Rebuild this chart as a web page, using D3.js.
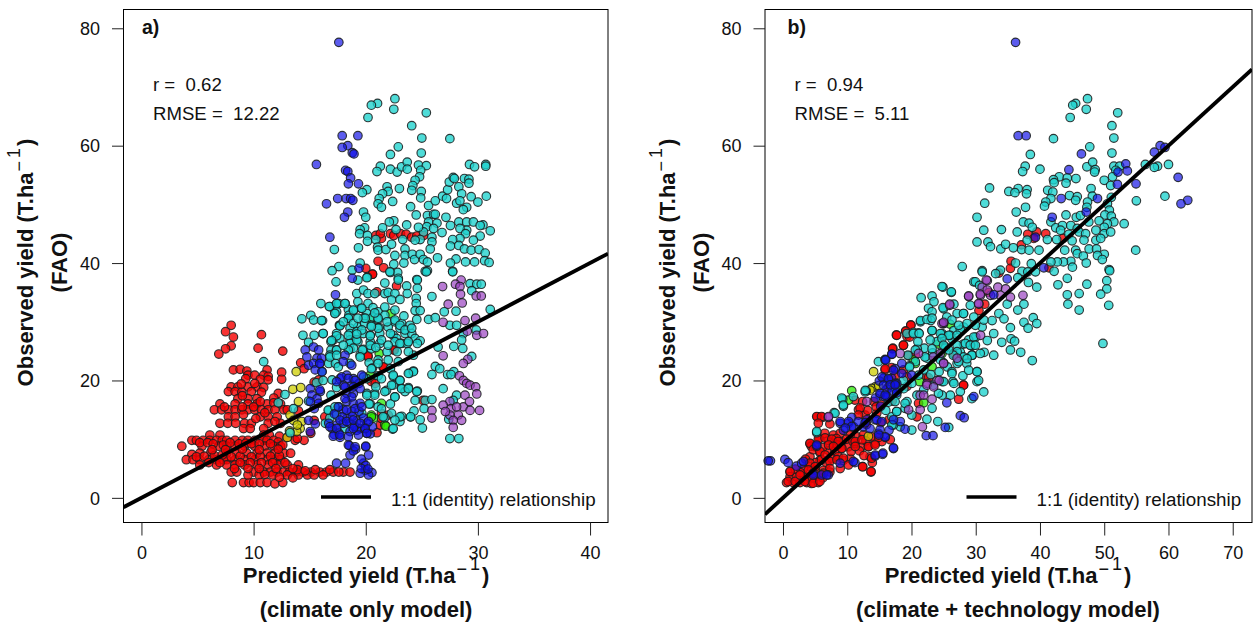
<!DOCTYPE html>
<html><head><meta charset="utf-8">
<script src="https://cdn.jsdelivr.net/npm/d3@7/dist/d3.min.js"></script>
<style>html,body{margin:0;padding:0;background:#fff}svg{display:block}text{font-family:"Liberation Sans",Arial,sans-serif;fill:#111;white-space:pre}</style>
</head><body><svg id="c" width="1253" height="626"></svg>
<script>
// Values, flat x,y lists (predicted, observed)
const aRed=[8,29.4,7.5,28.3,8.2,27.4,8,25.9,7.5,25.4,6.9,24.5,10.7,27.8,10.4,25.5,12.6,25,
8.2,21.8,8.8,21.9,9.4,21.6,11.2,21.8,9.5,20.9,10.1,20.9,10.9,20.9,11.3,20.7,12.5,21.4,9.3,20.3,10.6,20.2,11.3,20.1,12.5,20.2,
8,18.9,8.6,18.9,9.5,18.9,10.3,18.9,10.9,18.8,7.75,18.1,8.35,18.1,8.95,18,9.8,18.1,10.7,18,12.2,17.8,
8.6,16.9,9.5,16.9,10.3,16.9,11.8,17,7,16,8.35,16,9.5,16,10.3,16,11.2,16,11.8,16.2,12.4,16,
6.5,15,7.15,15,7.75,15,8.35,15,8.95,15,9.5,15,10.1,15,10.7,15,11.3,15,11.9,15,12.7,15,
7.75,13.8,8.35,13.8,10.6,13.8,11.3,13.8,12.1,13.8,9.1,14.2,7,12.7,7.7,12.7,8.4,12.7,9.2,12.7,9.8,12.7,11.3,12.7,12.4,12.7,9.1,11.8,9.7,11.8,10.9,11.8,
6.1,10.7,7,10.7,10.9,10.7,11.4,10.7,12.3,10.5,13,10.3,
4.5,9.8,4.9,9.8,5.5,9.8,6.1,9.8,6.7,9.8,7.2,9.8,7.6,9.8,8.35,9.8,9,9.8,9.5,9.8,10.1,9.8,10.9,9.8,11.2,9.8,11.8,9.8,12.2,9.5,13.7,9.8,14.5,9.8,
3.6,8.8,5.4,8.8,6.9,8.8,7.6,8.8,8.35,8.8,9.2,8.8,10.1,8.8,11,8.8,11.8,8.8,12.4,8.8,
5.2,7.6,4.5,7.4,6.2,7.8,7.6,7.6,8.5,7.6,9.4,7.6,10.3,7.6,11.2,7.6,11.9,7.6,12.7,7.6,13.3,7.6,
4,6.5,4.6,6.5,5.2,6.5,6,6.5,6.7,6.5,7.3,6.5,7.6,6.5,8.35,6.5,9.2,6.5,10.1,6.5,11.2,6.5,11.9,6.5,12.4,6.5,
5.2,5.6,6.7,5.6,7.6,5.6,8.35,5.6,9.2,5.6,10.3,5.6,11.3,5.6,12.2,5.6,13,5.6,14,5.6,
8,4.4,8.5,4.4,10,4.4,10.9,4.4,11.5,4.4,12.1,4.4,12.7,4.4,13.2,4.4,13.8,4.4,14.4,4.4,15.1,4.4,15.9,4.4,16.5,4.4,17.1,4.4,18,4.4,18.6,4.4,
10.5,3.9,11.7,3.9,13,3.9,14,3.9,14.8,3.9,15.4,3.9,16.2,3.9,
8.1,2.6,9.1,2.6,9.6,2.6,10,2.6,10.6,2.6,11.2,2.6,11.9,2.4,12.6,2.6,
14.2,23,14.5,22,15.8,20.1,15.4,19.7,13,15,14,14.8,15.4,13.2,15.1,11,13.9,10.1,
20.9,44.7,21.4,44.2,21.3,45,22.2,45,22.5,44.7,23.1,45,23.6,44.9,24.1,44.4,24.55,44.6,25.15,44.7,21.1,40.3,21.6,39.2,20,39.1,20.6,38.1,
21,35.1,22.75,36.1,20.6,38.1,22.55,25.2,20.2,24,21.55,22.2,25.1,16.6,21,11.1,20.5,19.8,21.4,14.4,21.3,12.4,
5.2,9.4,5.9,9.4,6.4,9.2,7.3,9,7.9,9.4,8.7,9.2,9.3,9.3,9.8,9.2,10.5,9.2,11.5,9.2,12.6,9,4.9,7,5.6,7.1,6.5,7.2,7.2,7.3,8,7,8.8,7.1,9.8,7,10.6,7.1,11.5,7.1,12.3,7.2,6,6,7,6,8.8,6,9.7,6,10.7,6,11.7,6,12.8,6,13.9,4.8,14.6,4.6,15.5,4.8,16.8,4.8,17.6,4.4,10,15.5,9,15.5,7.4,15.5,10.6,16.4,9,17.4,8.9,19.4,10.1,19.5,10.2,13.5,11.9,13,11,14.5,
16.35,13.8,20.85,19.5,21.4,13.5,22,14.1,20.2,24.2,21.6,22.3,22.5,25.2,
9.5,3.9,11,4,12.3,3.5,13.5,3.4,8.3,5,9.5,5,10.5,5,12,5,13.5,5,6.3,8.2,7.5,8.2,9,8.3,10.5,8.2,12.2,8.3];
const aYellow=[13.5,18.5,14.2,18.8,13.8,21.5,14,16.4,13.25,14.1,14.3,13,14.15,11.8,13.85,11.3,13,10.3,13.55,13.2,13.9,12.4,13.2,11.4];
const aGreen=[22.25,31.4,20.5,30.6,21.2,24.6,20.4,20.9,20.5,14.1,21.4,16.1,21.7,12.4,20.7,13.6,20.5,13.8,21.8,12.2];
const aCyan=[22.6,68,21.05,67.2,20.5,66.9,22.5,66.2,25.4,65.6,20.2,64.8,24.1,63.4,25,61.3,27.5,61.2,22.9,59.8,22.2,58.5,24.95,58.75,21.3,56.5,21,55.6,22.2,56,22.8,55.5,23.2,56.4,23.7,57.2,23.7,56,24.7,56.7,25.4,56.6,24.9,55.8,24.8,54.7,24.4,54.1,24.2,53.2,24.1,52.4,24.95,52.2,24.9,51.1,23,52.7,21.9,53,22,52.2,21.5,51.8,21.2,51,21.1,50.1,21.4,49.5,22.4,50.5,20.1,52.5,19.7,52,19.8,48.7,20,47.8,24,49.6,24.5,48.2,25.6,49.8,26.2,50.6,26.85,51.4,27.2,51,27.3,52.5,27.45,53.8,27.8,54.6,27.9,54.4,28.8,54.4,29.2,54.3,29.2,53.6,28.3,53,28.55,51.8,29.4,51.3,30.75,51.4,30,50.4,29,49.5,28.7,49.1,28.1,50.2,28.4,50.6,29.25,56.8,29.7,56.4,30.7,56.8,30.7,56.5,
25.5,48.1,26.05,48.3,26.2,48.3,27.15,47.8,28.3,47,29,47,29.6,47,30.45,46.5,30.2,46.4,25.6,47,26.35,46.8,27.55,46.4,25.45,46.2,26.05,45.9,26.8,45.2,25.15,45.3,31.1,45.5,30.2,44.6,29,45.6,28.4,45.9,28.9,45,28.4,44.2,27.75,44,29.6,43.9,27.55,42.9,28.3,43,28.8,42.4,29.4,42.2,30.1,42.3,30.65,41.7,25.9,44.4,25.9,43.6,25.75,42.4,24.85,44,24.4,43.9,23.3,44,22.7,45.7,23.65,46.5,24.7,46.1,22.5,47.2,22.1,47,21.5,46,19.9,46,19.5,45.7,19.45,45,20.15,44.7,20.15,43.7,20.9,44,21.05,42.7,21.1,42.2,21.8,42.3,22.3,43.2,22.6,41.3,23.5,42.4,23.5,41.3,24.15,41.5,24.35,40.6,24.85,41.5,25.15,40.6,25.5,40.2,26.4,40.9,19.35,42.6,17.2,42.3,28.05,40.7,27.55,40,28.9,40.2,29.7,40.2,30.6,40.4,31,40.1,27.75,38.6,23.4,40,22.5,39.8,25.3,38.6,25.5,38.7,17.6,39.4,17,38.7,19.5,40,18.8,38.8,20.15,37.6,22.2,38.4,22.85,38.4,24.55,37.2,22.9,37.4,
17.35,36.8,19.3,37.1,20.1,37.5,21.7,36.6,22.15,38.5,22.9,37.1,23.65,36.1,23.7,34.8,24.6,37.1,24.6,35.7,25.4,38.5,25.9,34.3,27.75,38.5,29.3,36.5,29.9,36.4,30.3,36.4,29.45,35.3,19.2,34.8,19.8,35.4,20.2,34.8,20.8,34.8,21.7,34.8,22,35,22.6,34.8,22.3,33.7,23.05,33.8,24.5,34,24.5,33.1,24.4,31.9,24.85,31.9,27,31.7,28.05,31.8,31.1,32.1,17.45,33.1,18.15,33.1,17.25,31.5,18.45,32.1,18.9,31.9,19.3,33.4,19.6,32.3,20.2,33.1,20.65,32.4,20.1,31.4,21.1,31.7,21.7,32.5,19.8,30.6,20.65,30.8,21.1,30.4,21.7,31.1,18.45,30.6,17.65,29.4,18.6,28.9,19.3,29.1,19.9,29.7,20.5,29.4,21.2,29,22,29.1,22.6,30,23.2,29.7,23.95,29.4,23.05,28.9,24.55,30.4,25.6,30.4,26.2,30.7,27.5,29.4,28.1,29.4,17.4,28,18.6,28,19.2,28.3,19.8,28,20.4,27.7,21.25,28,22.45,27.7,22.75,27.15,23.5,28,24.1,28,24.4,27.15,24.85,26.75,17.1,26.9,17.7,27.15,18.6,26.9,19.3,26.6,20.4,26.6,21.25,26.3,22.6,26.6,23.2,26.3,23.7,26.3,24.6,26.3,16.9,25.2,17.4,25.2,18.6,25.3,19.8,25.3,20.5,25.4,21.9,24.9,19.5,24.3,21.1,23.5,22,23.5,22.9,23.2,24.25,24.3,26.45,25.7,27.85,25.8,28.65,25.45,28.7,28,28.55,26.9,29.85,28.6,29.45,24.1,26.2,22.4,26.6,22,25.9,21,27.3,21,27.85,21.5,27.6,21,23.9,21.2,24.25,21.6,22.45,20.7,23.05,20,20.1,20.3,21.85,18.3,22.45,19.2,23.2,18.6,23.8,18.8,22.6,17.2,23.5,18.1,24.6,18.2,24.4,16.6,25.3,16.6,25.9,16.75,25.2,15.2,26.9,18.6,20.1,17.8,20.8,17.8,20.4,16,21.1,15.5,22.3,14.4,23.05,13,23.2,13.9,24,13.8,24.3,14.8,24.85,13.3,25.05,11.9,22.4,11.7,27.5,10.1,28.3,10.1,28.1,17.5,27.8,16.6,27.4,13.4,
14.3,30.5,15.1,31.1,16.15,30.2,15.35,30.3,16,33.1,16.8,32.6,17.4,31.7,17.6,33.1,18.5,31.1,14.4,27.7,15.4,27.7,16.2,28,16.9,26.6,14.9,26.5,17.7,29.4,18.6,26.3,10.9,23.2,17.4,25.2,16.8,24.3,16.7,22.9,18.6,22.9,17.4,18.8,12.8,17.6,13.55,15.2,16.7,14.9,17.6,15.5,13.25,11.1,17.3,22.9,16.1,21.5,15.6,19.6,17,20.1,20.3,23,21.1,20.8,20.6,22.1,22.2,22,20.9,18.9,22.2,16,21.7,13.7,16.9,17.5,16.4,12.7,16.8,13.6,12.2,16.2,14.9,16.5,19.8,20.6,
16.75,32.6,17.25,31.4,17.4,33.1,18.15,33.1,18.9,32,18.45,30.6,19.65,32.3,16.05,30.2,17.7,29.3,16.2,28,17.4,27.6,16.95,26.8,18.45,27.7,19.2,26.9,19.65,28.6,20.4,27.6,19.95,30.6,21.1,30.6,21.9,30,22.6,30.3,21.1,28.9,20.5,29.2,23.05,29.4,23.5,28.6,24.1,28.9,22.2,28,21.4,26.9,23.05,26.3,23.8,26.6,19.7,25.2,18.9,25.5,18.45,25.2,20.4,26,22,26,21.1,22.9,20.5,22,19.5,24,16.8,24,17.4,24.3,17.55,22.3,22.45,20.9,23.05,20,24.25,21.5,23.8,21.2,21.4,20.3,22.3,19.2,23.2,18.6,23.8,18.6,21.7,18.1,20.8,17.5,20.1,17.5,22.6,17.2,24.55,18.1,20.3,16,19.65,14.4,21.4,15.2,21.55,13.8,23.05,13.8,24,13.8,22.45,11.8,22.6,13.25,16.65,14.95,17.25,15.5,17.4,14.1,18.15,11.8,16.2,20,
18,30,18.9,29.7,19.3,30.6,20.8,31.5,22.6,32,23.4,31,18,26,19.2,27.9,20.9,25.6,22.8,24.9,23.8,24.9];
const aPurple=[28.5,37.1,28,36.4,28.4,36,26.85,36,28.45,34.7,28.6,33.2,29.85,34.4,30.3,34.4,27.35,33,26.9,29.9,28.85,30.2,29.8,30.6,29.05,28.4,29.9,27.7,30.5,28,26.9,24.2,29.1,23.6,28.7,22.9,28.35,20.8,28.7,20,29,19.5,29.3,19.2,29.8,18.9,29.9,17.7,28.85,17.5,27.5,16.4,26.9,15.8,27.6,15.2,28.7,15.5,29.25,16.4,29.3,14.9,30.15,14.9,28.25,14.1,27.5,14.1,28.55,13.2,27.8,13.2,25.9,14.9,25.9,13.6,27.8,12,27.1,14.7,28.1,15.5];
const aBlue=[17.6,77.6,17.9,61.7,19.3,61.7,18.4,60,17.9,59.7,18.8,58.8,18.95,58.6,15.6,56.8,18.2,55.8,18.4,55.6,18.65,54.5,18.45,53.5,19.35,53.5,17.5,51,18.25,51,18.65,51,18.85,50.7,16.5,50.1,18.4,48.7,18.1,47.8,16.8,44.4,19.4,39.1,18.8,37.4,17.3,34.6,
14.6,25.2,15.35,25.7,15.8,25.2,14.75,24,15.65,23.8,15.9,22.9,14.9,22.6,15.35,22.9,15.5,21.8,16.1,21.5,15.05,18.6,15.95,18.1,15.2,17.5,15.65,16.9,15.05,16.4,15.8,16.1,15.4,15.2,14.9,13.2,15.5,12.6,15.05,11.3,17.7,20.3,18.3,20.9,18.9,20.3,18,19.2,18.75,19.2,19.4,19.5,18.3,17.8,18.9,17.8,18.3,16.4,18.9,16.1,19.5,16.1,18,15,18.75,14.7,19.4,14.7,18.3,13.5,19.2,13.1,20.1,12.7,17.4,12.4,18,12.7,18.6,12.7,19.5,11.8,17.6,11,17,11.8,18.6,11.3,19.2,11.5,20.1,11,17.9,13.8,18.8,13.9,19.8,13.6,17.2,14.3,16.7,12.7,17.2,10.8,17.7,10.3,19,12.2,19.9,12,20.4,10.9,20.6,12.1,
18.55,8.9,20,8.7,19.1,8.3,18.6,7.3,20.25,7.3,19.8,5.9,17.4,5.9,18.2,5.9,19.95,4.7,20.55,4.3,20.25,3.9,19.5,4.2,18.9,8,19.6,6.6,20,5.5,19.6,5,20.2,4.9,
18.15,24.3,16.05,23.8,18,23.2,18.75,22.6,17.85,20.6,18.45,20.35,19.05,20,19.65,20.9,17.4,19.8,18.15,18.9,18.9,18.9,19.5,18.6,18.75,17.2,18.15,16.9,17.55,15.5,18.3,14.95,19.05,15.2,19.65,15.5,17.7,13.25,18.3,13,18.9,13.25,19.5,12.7,20.25,13,16.8,12.1,17.4,11.8,18.9,11.8,19.95,11.8,17.1,10.5,17.7,10.7,18.45,10.4,19.35,10.7,20.1,11,18.45,9,19.05,8.7,20,8.8,15.9,22.9,15.9,18.4];
const bRed=[38.1,44.9,39.5,45.3,40.9,45,39.05,44.2,43.6,44.2,37.1,43.1,35.5,40.3,35.4,39.1,41.4,39.2,33.6,38.3,32.05,35,31.4,33,30.5,31.9,26.6,24.5,
17.65,27.75,19.1,28.4,19.9,29.45,19.3,27.5,17.1,25.5,18.75,26,19.55,24.2,5.35,13.8,6.1,13.7,7.3,12.6,5.65,10.1,4.2,9.2,4.4,8.8,5,8.7,5.75,7.7,4.2,7,7.05,9.8,7.85,10.7,8.9,11,7.85,9.3,9.15,9.6,7.05,8.1,8.1,7.9,9.15,8.4,10.2,8.7,11.2,9.3,12.25,8.7,13.3,8.7,14.35,9.3,15.4,9.6,11.5,10.4,12.5,10.7,13.8,10.4,10.45,10.7,5.75,6.4,6.8,5.9,7.6,6.7,8.6,7,9.4,6.4,10.45,6.7,12.4,5.3,13.7,4.4,13.9,6,13.55,7,1.1,4.4,0.55,2.6,1.6,2.6,2.65,2.6,3.7,2.6,4.45,2.45,5.5,2.6,1.1,3.6,2.1,3.6,3.2,3.9,4.2,5.3,3.2,5,5,4.7,6.3,4.7,7.3,4.4,5,3.6,3.95,3.6,11.2,16.65,11.75,15,14.1,16.4,14.6,14.4,12.8,14.1,15.9,21.8,16.9,22.2,17.5,20.9,18.75,21.8,19.3,20.6,22.4,20.6,27.35,16.8,28.1,19.2,20.85,13.8,21.1,16.1,19.3,19,
8.3,10.1,9.9,10,10.9,9.6,12.9,9.7,6.5,11,6.2,8.6,8.5,9,10.6,7.9,11.9,8,12.6,7.2,14.9,10.3,13,12.5,15.2,12.8,16.5,13.3,14.5,15.5,15.4,15.9,17,16.5,13.2,14.9,12.4,16.4,16.4,18.9,18,18.4,2.7,4.3,4.6,3.4,6.2,3.4,1.9,4.9,3.5,6.6,5.1,6,
19.9,29.4,19.1,28.4,17.7,27.7,19.7,27.4,18.75,26,17.05,25.4,15.9,22,20.6,24.3,22.65,20.45,28.1,19.2,26.55,24.6,
5.25,13.85,6,13.85,5.5,12.7,12,15.3,11.75,14.1,4.2,9.3,5.5,10,6.55,10.2,7.6,10,8.6,9.6,4.7,8.2,5.75,7.9,7.1,9,7.85,8.75,9.15,8.45,11.25,9.6,12.3,9.9,11.25,8.75,13.3,8.75,14.35,9,16.7,9.9,6,6.5,4.2,5.9,5,5.3,6.55,7.3,7.3,6.2,8.4,6.5,9.4,6.75,7.3,5,6.3,4.2,1.1,4.5,0.8,2.8,1.9,2.8,2.65,3.9,3.95,4.75,3.4,2.8,4.7,2.5,5.75,2.8,13.8,6.75,12.4,5.3,13.7,4.5,8.9,5,10.2,5.6];
const bYellow=[14.1,21.5,14.35,18.9,13.8,18.65,13.3,10.5,14.9,19.1,13.55,18.35];
const bGreen=[10.7,18.25,21.25,19.8,23.2,22.35,21.9,16.2,20.6,22.9,10.2,16.65,26,29.6,24.75,24.6,24.2,26.2,20.3,23.5];
const bCyan=[47.4,68,45.55,67.2,45.1,66.9,47.2,66.2,52.1,65.6,44.7,64.8,51.2,63.4,51.5,61.3,42.1,61.2,47.75,59.8,38.5,58.5,51.2,58.75,37.7,56.5,37.3,55.6,40,56,47.3,56.4,48.2,57.2,48.6,55.9,48.5,55.5,51.5,56.5,52.4,56.5,60,56.8,56.4,56.8,58.3,56.5,57.8,56.3,51.8,55.8,51.3,54.7,50,54.1,51,53.2,43,54.7,42.1,54.2,42.2,53.7,44.25,54.5,45.6,54.4,44.05,53.6,32.15,52.8,35.15,52.2,36.6,52.7,36.1,52,38,52.5,37.9,51.8,41.2,52.4,42,52.1,41.7,51,44.6,51.5,45.8,51.3,45.55,50.7,47.95,52.7,48.15,51.4,51.1,51.2,59.45,51.4,55,50.6,31.4,50.2,40.9,50.4,40.7,49.7,37.75,49.5,36.3,48.7,30.2,47.8,44.05,48.2,47.4,50.4,47.3,49.5,50.5,50.1,50.8,49,50.1,48.2,51.1,48,45.65,47.8,46.3,48.1,53.1,46.7,51.5,47,50.5,46.7,49.2,47.2,47.6,47,50,46.1,37.4,47,38.3,46.8,41.7,47,42.45,46,43.5,46.4,44.8,46.4,45.8,45.9,31.25,45.6,34,45.7,36.45,45.3,38.8,46.1,43.2,45.6,44.5,44.9,46.1,45.3,47.1,45,48.7,45.6,50,45,51,45.3,30.2,43.6,31.9,43.6,32.3,42.8,33.9,42.4,34.65,43.2,35.85,42.6,37.15,42.3,38,43.9,38.3,42.2,39.85,42.2,41.15,44,42.6,44,43.85,42.2,45,43.8,45.55,42.2,46.85,43.9,47.65,42.4,48.7,43.9,49.45,44.2,54.9,42.2,50,41.5,48.8,42.4,48.95,41.3,49.7,40.6,45.8,41.6,46.75,41.2,47.2,40,44.8,40.3,43.65,40.2,42.7,40.2,41.7,40.2,36.2,40,38.65,39.9,27.9,39.4,31,38.7,33.85,38.8,33.1,38.2,37.2,38.6,38.1,38.5,39.3,38.5,42.2,38.6,45.05,39.3,50.75,38.9,50.85,38.7,44.25,37.4,50.4,37,36.55,37.5,29.7,36.8,24.9,35.9,26.2,35,38.2,36.7,39.5,35.9,42.8,36.3,47.3,36.4,50.4,35.6,49.45,34.7,46.1,34.8,44.25,34.6,44.35,33,46.1,32,50.7,32.8,37.5,33,36.55,32,34.9,33,33.6,31.4,34.4,30.5,35.4,29,37.5,29.9,38.95,30.7,39.5,29.7,38.15,28.9,34.05,26.5,35.5,27.1,36.05,26.7,35.4,25.2,37,24.8,49.8,26.3,38.8,23.4,
26.6,33,25,32.2,28.1,31.4,29.7,30.8,31,29.1,32.55,30.2,26.6,28.5,28.1,29.1,30,27.4,31.8,26.8,32.8,28,29.7,26,31.3,24.8,32.8,24.3,28.1,26.2,26.3,27.1,25,27.7,29.45,24.3,27.6,24.8,25.3,25.7,
5.25,11.1,9.3,16.8,9.4,15.6,7.95,14.5,12.95,18.2,14.85,23.2,15.9,23.6,19.3,28,20.3,28.2,21.1,28.1,23.2,28.5,24.75,28,21.4,30,23,30.2,26,27.7,27.6,28.6,23.95,26.6,27.1,26,28.9,26.9,28.1,24,29.4,24.3,30.2,21.5,30.2,19.8,26.45,19.8,27.6,18.1,26.05,17.5,24.75,17.5,23.2,15.25,22.4,13.4,24.1,13,20.05,11.55,25.8,12,21.9,21.8,20.6,23.2,22.4,23.8,24.5,23.5,27.1,22.9,28.6,22.9,20.05,19.5,20.85,17.5,19.3,16.4,17.7,14.7,16.95,13.8,18.25,12.1,20.05,14.1,19,15.25,17.2,12.4,17.7,17.5,21.9,18.4,23.4,19.2,24.75,19.8,27.1,24.9,25.25,25.5,29.2,26,22,25.5,23.3,24.7,25.6,22.3,26.5,24.3,24.3,21.5,23,21,18.8,18.6,17.6,19,16.4,16.3,16,14.9,19.7,22.5,20.9,25.4,26.3,21.5,28,20.8,
24.75,36,26.2,35.1,21.5,34.1,23.2,34.4,23.5,33.4,24.9,32.4,22.65,32.3,23.2,31.7,21.4,30.2,22.4,30.4,23.2,30.6,25.5,30.8,27.1,31.4,28.1,31.4,29.15,32.8,29.95,36.8,30.6,36.2,31,38.5,25,29.7,26.3,30.3,27.35,29.4,28.65,29.7,29.95,29.4,31.25,30.3,20.3,28,21.2,28,23.2,28.5,21,26.6,24.5,28,25.8,27.7,27.1,27.7,29.7,27.4,22.9,26.9,23.2,25.4,24.75,27.15,25,26,25.8,25.2,28.4,26.3,29.15,26,29.95,26,20.6,25.2,19.45,24.3,19.7,22.3,22.1,24,29.4,24.3,30.7,24.6,27.35,23.2,28.65,23.7,28.9,21.75,30.2,21.5,30.45,20,26.3,21.2,26.6,19.5,25,19.8,16.8,18.9,12.8,18.05,31.25,18.05,29.4,16.9,24.2,17.8,18.75,20,21.1,20.9,
8.1,14.4,9.15,17,9.4,15.8,10.95,17.25,12.8,18.3,17.45,16.4,17.7,14.7,16.95,12.4,19,16.1,5.25,11.3];
const bPurple=[31.8,37,31,35.9,33.45,35.9,34.65,35.6,30.75,34.5,28.9,34.3,32.3,34.5,37.35,34.5,35.4,34.2,33.85,34.5,30.5,33,25.95,32.8,25,29.7,30.75,27.7,7.05,13.7,13.05,16.4,18.25,24.6,21.1,24.6,23.4,24,25,23,27.1,23.8,22.4,19.5,24,20,19.55,15,21.35,15,21.7,12.1,21.35,17.5,23.2,16.8,24.75,29.7,
28.9,34.4,31.65,37.1,30.7,34.7,30.45,33.1,25.95,33,25,29.9,31.8,35.4,24.5,24.6,25,22.9,24.3,20,22.4,19.2,23.45,18.9,21.9,17.5,7.1,13.85];
const bBlue=[36.2,77.6,36.6,61.7,37.85,61.7,46.45,58.6,44.5,55.9,53.35,56.9,53.6,55.7,52.15,55.5,52.05,53.4,54.95,53.5,48.95,51,43.3,51,41.9,47.8,47.2,48.7,58.7,60,59.45,59.7,57.8,58.9,61.5,54.6,63,50.7,61.95,50.1,39.3,44.4,40.6,39.2,34.9,37.3,32.8,34.6,
-1.95,6.3,-2.3,6.3,0.3,6.55,0.8,6,2.1,5.4,2.9,5.9,5.25,8.8,4.7,4.2,6,3.9,7.05,3.9,14.35,7.1,15.5,7.4,17.2,8.4,11.2,6,8.9,12.7,10.2,12.7,9.4,11.5,11,12.1,12.5,12.1,13.55,11.8,13.05,13.3,14.35,13.3,14.85,11,15.9,10.3,15.9,17.2,15.1,17.5,16.4,20.1,16.9,20.4,15.65,20.4,17.7,19.5,15.9,23.5,16.95,24.45,17.45,22,27.6,14,28.2,13.65,22.3,10.6,23.35,10.6,25.25,12,29.7,17.25,25.5,16.2,19,11.7,18.25,13,17.2,13.3,15,19.9,16.2,18.5,17,18.2,14.4,17,15.2,15.6,10.7,13.7,11.7,13,12.8,12.8,16.5,11.5,
16,23.5,16.95,24.5,17.2,21.75,18.5,22.9,15.4,20.6,16.4,20.3,17.45,19.5,18.5,21.2,15.65,19.2,20.05,20.9,15.1,17.8,16.15,17.3,17.7,17.9,3.2,6.2,8.9,13,10.2,13,10.7,12.15,9.7,11.9,14.6,13.3,15.4,13,15.1,11.6,15.9,10.4,14.9,10.7,14.35,7.3,15.55,7.6,17.2,8.5,10.95,6.2,8.9,5.9,4.7,3.9,6.8,3.9,5.25,9,16.7,19.25,17.45,19.25,15.9,17.5];
const xTicksA=[0,10,20,30,40], xTicksB=[0,10,20,30,40,50,60,70], yTicks=[0,20,40,60,80];
const seriesStyle=[["red","rgba(245,0,0,.8)"],["yellow","rgba(205,205,0,.75)"],["green","rgba(40,235,0,.75)"],["cyan","rgba(30,210,205,.78)"],["purple","rgba(150,60,190,.68)"],["blue","rgba(15,15,230,.68)"]];
const toPts=f=>d3.range(0,f.length-1,2).map(i=>[f[i],f[i+1]]);
const svg=d3.select("#c");
function panel(o){
  const W=o.right-o.left;
  const x=d3.scaleLinear().domain(o.xd).range([o.left,o.right]);
  const y=d3.scaleLinear().domain([-4.2,83.2]).range([522.5,9.5]);
  const g=svg.append("g");
  const clip="clip"+o.tag[0]; g.append("clipPath").attr("id",clip).append("rect").attr("x",o.left).attr("y",9.5).attr("width",W).attr("height",513);
  g.append("g").selectAll("g").data(o.series).join("g").each(function(s,i){
    d3.select(this).selectAll("circle").data(toPts(s)).join("circle")
      .attr("cx",d=>x(d[0])).attr("cy",d=>y(d[1])).attr("r",4.3)
      .attr("fill",seriesStyle[i][1]).attr("stroke","rgba(25,30,30,.88)").attr("stroke-width",1.15);
  });
  g.append("line").attr("clip-path",`url(#${clip})`).attr("x1",x(o.xd[0])).attr("y1",y(o.xd[0])).attr("x2",x(o.xd[1])).attr("y2",y(o.xd[1])).attr("stroke","#000").attr("stroke-width",3.9);
  g.append("rect").attr("x",o.left).attr("y",9.5).attr("width",W).attr("height",513).attr("fill","none").attr("stroke","#000").attr("stroke-width",1);
  const ax=g.append("g").attr("transform","translate(0,522.5)").call(d3.axisBottom(x).tickValues(o.xt).tickSize(13).tickFormat(d3.format("d")));
  ax.select(".domain").remove(); ax.selectAll("text").attr("dy",0).attr("y",36).attr("font-size",18).style("font-family",'"Liberation Sans"');
  const ay=g.append("g").attr("transform",`translate(${o.left},0)`).call(d3.axisLeft(y).tickValues(yTicks).tickSize(11.5).tickFormat(d3.format("d")));
  ay.select(".domain").remove(); ay.selectAll("text").attr("x",-23.5).attr("dy","0.35em").attr("font-size",18).style("font-family",'"Liberation Sans"');
  ax.selectAll("line").attr("stroke","#222"); ay.selectAll("line").attr("stroke","#222");
  const T=(tx,ty,s,size,bold)=>g.append("text").attr("x",tx).attr("y",ty).attr("font-size",size).attr("font-weight",bold?"bold":"normal").text(s);
  T(o.left+18.5+o.shift,34,o.tag,19.5,true);
  T(o.left+29.5,91,o.r,18.6); T(o.left+29.5,120,o.rmse,18.6);
  g.append("line").attr("x1",o.left+197.5+o.shift).attr("x2",o.left+247.5+o.shift).attr("y1",497).attr("y2",497).attr("stroke","#000").attr("stroke-width",3.6);
  T(o.left+267.5+o.shift,506,"1:1 (identity) relationship",18.8);
  const title=(el,s)=>{
    el.append("tspan").text(s);
    el.append("tspan").attr("dy",-8).attr("dx",1).attr("font-size",18).attr("font-weight","normal").text("\u2212");
    el.append("tspan").attr("dy",-5).attr("dx",3).attr("font-size",18).attr("font-weight","normal").text("1");
    el.append("tspan").attr("dy",13).attr("dx",2).text(")");
  };
  title(g.append("text").attr("x",o.xc).attr("y",583).attr("font-size",22).attr("font-weight","bold").attr("text-anchor","middle"),"Predicted yield (T.ha");
  g.append("text").attr("x",o.xc).attr("y",617).attr("font-size",22).attr("font-weight","bold").attr("text-anchor","middle").text(o.sub);
  title(g.append("text").attr("transform",`translate(${o.left-90.5},262.5) rotate(-90)`).attr("font-size",22).attr("font-weight","bold").attr("text-anchor","middle"),"Observed yield (T.ha");
  g.append("text").attr("transform",`translate(${o.left-56.5},262.5) rotate(-90)`).attr("font-size",22).attr("font-weight","bold").attr("text-anchor","middle").text("(FAO)");
}
panel({tag:"a)",shift:0,left:123.5,right:608,xd:[-1.6,41.6],xt:xTicksA,r:"r =  0.62",rmse:"RMSE =  12.22",xc:366,sub:"(climate only model)",series:[aRed,aYellow,aGreen,aCyan,aPurple,aBlue]});
panel({tag:"b)",shift:4,left:765,right:1252,xd:[-2.8,73],xt:xTicksB,r:"r =  0.94",rmse:"RMSE =  5.11",xc:1008,sub:"(climate + technology model)",series:[bRed,bYellow,bGreen,bCyan,bPurple,bBlue]});
</script></body></html>
